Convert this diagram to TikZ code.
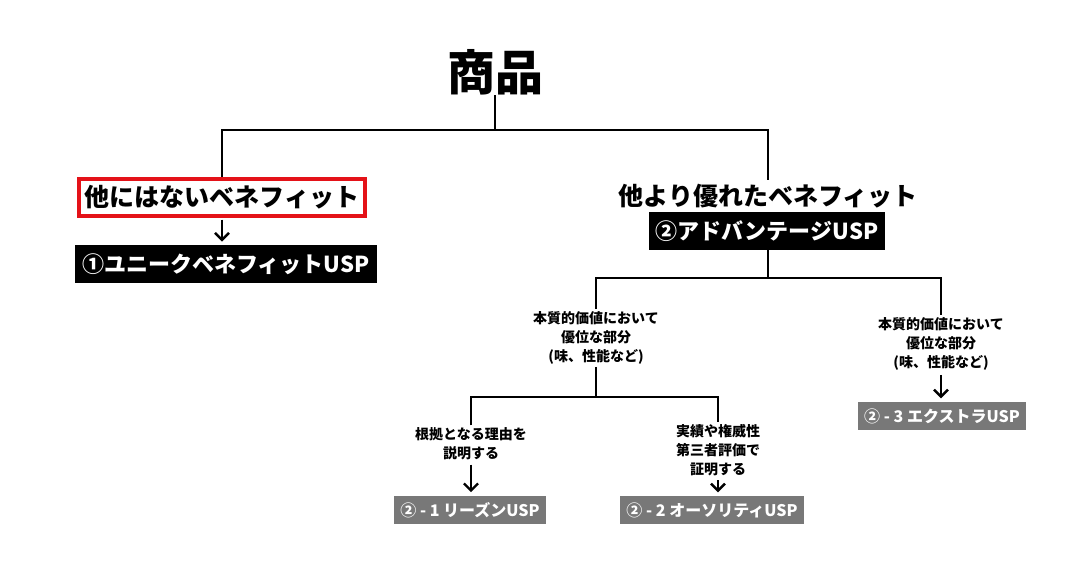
\documentclass[tikz,border=0pt]{standalone}
\usepackage{fontspec}
\setmainfont{Noto Sans CJK JP}
\usepackage{tikz}
\usetikzlibrary{positioning,arrows.meta}
\definecolor{uspgray}{RGB}{120,120,120}
\definecolor{markred}{RGB}{228,18,24}

\begin{document}
\begin{tikzpicture}[
    x=0.5pt, y=-0.5pt,
    title/.style={font=\fontsize{24pt}{28pt}\selectfont\bfseries, inner sep=0pt},
    benefit/.style={font=\fontsize{12.5pt}{15pt}\selectfont\bfseries, inner sep=2pt},
    redbox/.style={benefit, draw=markred, line width=2pt, fill=white, inner xsep=3pt, minimum height=18.5pt},
    uspblack/.style={rectangle, fill=black, text=white, font=\fontsize{11pt}{14pt}\selectfont\bfseries, inner xsep=3.5pt, minimum height=19pt},
    uspgraybox/.style={rectangle, fill=uspgray, text=white, font=\fontsize{8pt}{10pt}\selectfont\bfseries, inner xsep=3pt, minimum height=14pt},
    note/.style={align=center, font=\fontsize{7pt}{9.5pt}\selectfont\bfseries, inner sep=1pt},
    branch/.style={line width=1pt},
    down/.style={-{Straight Barb[length=3.5pt,width=7pt,line width=1.2pt]}, line width=1.2pt, shorten >=1.5pt, shorten <=1pt}
]
\useasboundingbox (0,0) rectangle (1086,578);

% Product at the top
\node[title] (shohin) at (495,72) {商品};

% Unique benefit branch
\node[redbox] (unique) at (222,197) {他にはないベネフィット};
\node[uspblack] (uniqueusp) at (226,264) {①ユニークベネフィットUSP};

% Advantage branch
\node[benefit] (superior) at (768,196) {他より優れたベネフィット};
\node[uspblack] (adv) at (767,231) {②アドバンテージUSP};

% Ways to be superior
\node[note] (essence) at (596,338) {本質的価値において\\優位な部分\\(味、性能など)};
\node[note] (extra) at (941,344) {本質的価値において\\優位な部分\\(味、性能など)};
\node[note] (reason) at (471,444) {根拠となる理由を\\説明する};
\node[note] (authority) at (718,450) {実績や権威性\\第三者評価で\\証明する};

% Resulting USP types
\node[uspgraybox] (reasonusp) at (470,510) {② - 1 リーズンUSP};
\node[uspgraybox] (authusp) at (712,510) {② - 2 オーソリティUSP};
\node[uspgraybox] (extrausp) at (942,416) {② - 3 エクストラUSP};

% Tree junctions
\coordinate (top) at (495,130);
\coordinate (split) at (768,278);
\coordinate (fork) at (596,397);

\draw[branch] (shohin.south) -- (top);
\draw[branch] (unique.north) |- (top) -| (superior.north);
\draw[branch] (adv.south -| split) -- (split);
\draw[branch] (essence.north) |- (split) -| (extra.north);
\draw[branch] (essence.south) -- (fork);
\draw[branch] (reason.north) |- (fork) -| (authority.north);

% Arrows down to the USP boxes
\draw[down] (unique.south) -- (unique.south |- uniqueusp.north);
\draw[down] (reason.south) -- (reason.south |- reasonusp.north);
\draw[down] (authority.south) -- (authority.south |- authusp.north);
\draw[down] (extra.south) -- (extra.south |- extrausp.north);

\end{tikzpicture}
\end{document}
